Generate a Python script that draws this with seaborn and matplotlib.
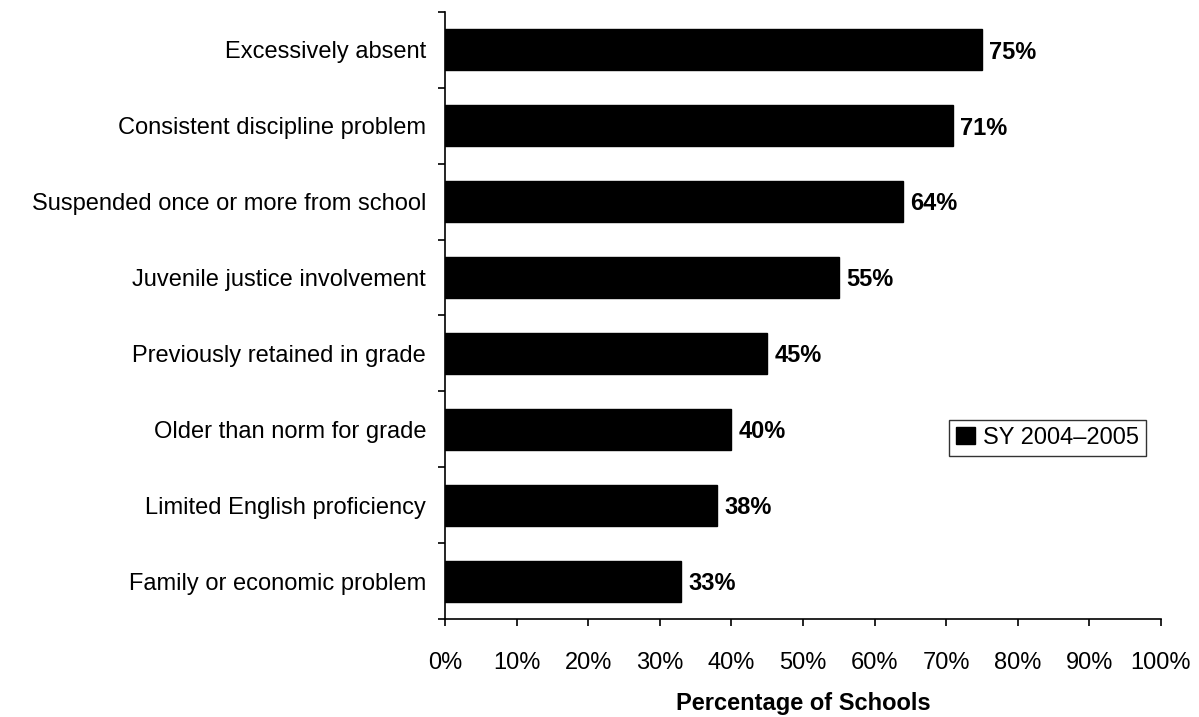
import matplotlib
matplotlib.use("Agg")
import matplotlib.pyplot as plt
from matplotlib.patches import Patch
from matplotlib.ticker import FixedLocator, PercentFormatter
import seaborn as sns
import pandas as pd

categories = [
    "Excessively absent",
    "Consistent discipline problem",
    "Suspended once or more from school",
    "Juvenile justice involvement",
    "Previously retained in grade",
    "Older than norm for grade",
    "Limited English proficiency",
    "Family or economic problem",
]
values = [75, 71, 64, 55, 45, 40, 38, 33]
series_name = "SY 2004\u20132005"
x_ticks = [0, 10, 20, 30, 40, 50, 60, 70, 80, 90, 100]

df = pd.DataFrame({"reason": categories, "pct": values})

sns.set_style("white")
plt.rcParams["font.family"] = ["Liberation Sans", "DejaVu Sans"]
plt.rcParams.update({
    "text.color": "black",
    "axes.labelcolor": "black",
    "xtick.color": "black",
    "ytick.color": "black",
    "axes.edgecolor": "black",
})

FS = 17

fig = plt.figure(figsize=(11.99, 7.17), dpi=100)
ax = fig.add_axes([0.3711, 0.1367, 0.5972, 0.8466])

sns.barplot(data=df, y="reason", x="pct", color="black", width=0.54,
            orient="h", ax=ax, edgecolor="black", saturation=1)

ax.set_xlim(0, 100)
ax.set_ylim(len(categories) - 0.5, -0.5)

for i, v in enumerate(values):
    ax.text(v + 1.0, i + 0.03, f"{v}%", va="center", ha="left",
            fontsize=FS, fontweight="bold", color="black")

# x axis
ax.xaxis.set_major_locator(FixedLocator(x_ticks))
ax.xaxis.set_major_formatter(PercentFormatter(decimals=0))
ax.tick_params(axis="x", direction="out", length=5, width=1.2,
               pad=19, labelsize=FS, bottom=True, colors="black")
ax.set_xlabel("Percentage of Schools", fontsize=FS, fontweight="bold",
              labelpad=13, color="black")

# y axis: labels at bar centres, tick marks at category boundaries
ax.set_yticks(range(len(categories)))
ax.set_yticklabels(categories, fontsize=FS, color="black")
ax.tick_params(axis="y", which="major", length=0, pad=13.5)
ax.set_yticks([i - 0.5 for i in range(len(categories) + 1)], minor=True)
ax.tick_params(axis="y", which="minor", direction="out", length=5,
               width=1.2, left=True, color="black")
ax.set_ylabel("")

for side in ["top", "right"]:
    ax.spines[side].set_visible(False)
for side in ["left", "bottom"]:
    ax.spines[side].set_color("black")
    ax.spines[side].set_linewidth(1.2)

leg = ax.legend(handles=[Patch(facecolor="black", edgecolor="black",
                               label=series_name)],
                loc="upper left", bbox_to_anchor=(0.704, 0.328),
                fontsize=FS, frameon=True, fancybox=False,
                handlelength=0.8, handleheight=0.75, handletextpad=0.35,
                borderpad=0.3, borderaxespad=0, labelcolor="black")
leg.get_frame().set_edgecolor("black")
leg.get_frame().set_linewidth(1.0)

fig.savefig("out.png", dpi=100)
